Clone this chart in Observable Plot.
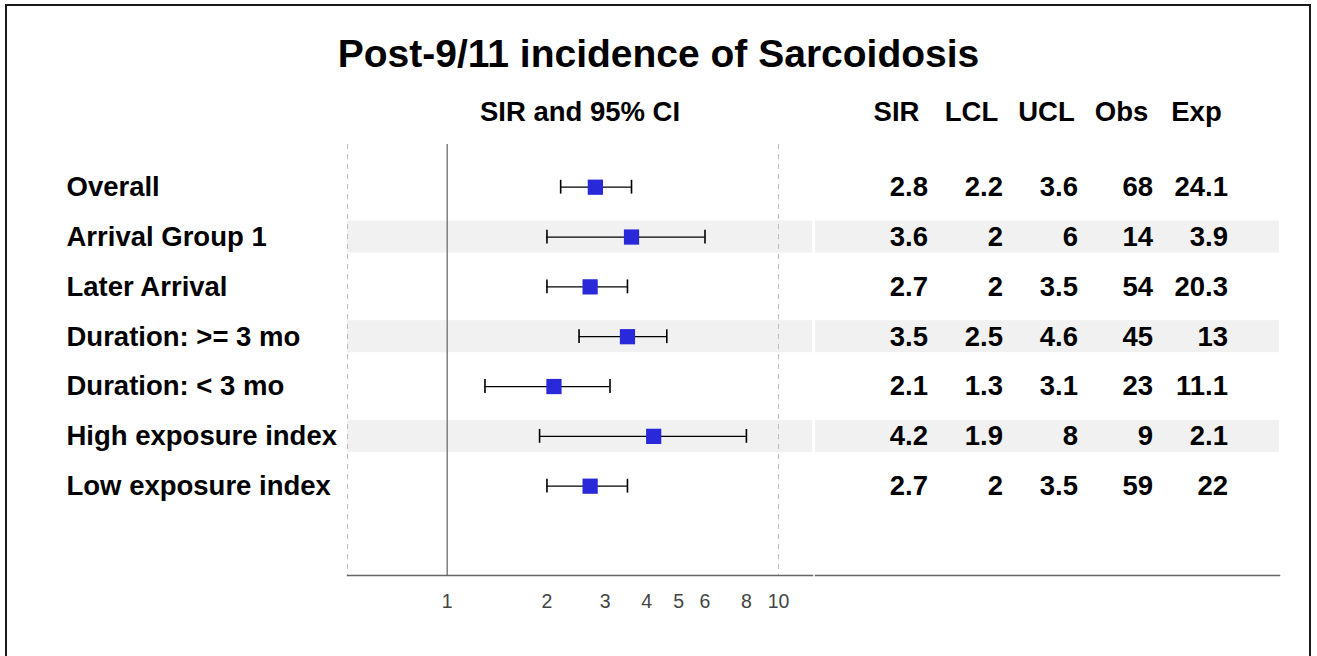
<!DOCTYPE html>
<html><head><meta charset="utf-8">
<script src="https://cdn.jsdelivr.net/npm/d3@7"></script>
<script src="https://cdn.jsdelivr.net/npm/@observablehq/plot@0.6"></script>
<style>
body{margin:0;background:#fff;}
#wrap{position:relative;width:1317px;height:656px;overflow:hidden;font-family:"Liberation Sans",Arial,sans-serif;}
#border{position:absolute;left:5px;top:4px;width:1306px;height:720px;border:2px solid #1a1a1a;box-sizing:border-box;}
#title{position:absolute;left:0;top:34px;width:1317px;text-align:center;font-size:39px;font-weight:bold;line-height:39px;color:#000;}
#forest{position:absolute;left:0;top:0;}
#table{position:absolute;left:813px;top:0;}
</style></head>
<body><div id="wrap"><div id="border"></div><div id="title">Post-9/11 incidence of Sarcoidosis</div><div id="forest"></div><div id="table"></div></div>
<script>
const labels = ["Overall","Arrival Group 1","Later Arrival","Duration: >= 3 mo","Duration: < 3 mo","High exposure index","Low exposure index"];
const sir = [2.8, 3.6, 2.7, 3.5, 2.1, 4.2, 2.7];
const lcl = [2.2, 2, 2, 2.5, 1.3, 1.9, 2];
const ucl = [3.6, 6, 3.5, 4.6, 3.1, 8, 3.5];
const obs = [68, 14, 54, 45, 23, 9, 59];
const expd = [24.1, 3.9, 20.3, 13, 11.1, 2.1, 22];
const columns = ["SIR", "LCL", "UCL", "Obs", "Exp"];
const ciHeader = "SIR and 95% CI";
const xTicks = [1, 2, 3, 4, 5, 6, 8, 10];
const refLines = [0.5, 10];
const nullValue = 1;

const font = '"Liberation Sans", Arial, sans-serif';
const banded = labels.filter((d, i) => i % 2 === 1);
const rows = labels.map((label, i) => ({label, sir: sir[i], lcl: lcl[i], ucl: ucl[i]}));
const tableCols = [sir, lcl, ucl, obs, expd];
const cellsT = [];
labels.forEach((label, i) => tableCols.forEach((arr, j) => cellsT.push({label, col: columns[j], value: arr[i]})));

const yScale = {type: "band", domain: labels, range: [161.8, 510.6], padding: 0, round: false, axis: null};
const bandStyle = {fill: "#f1f1f1", insetTop: 8.9, insetBottom: 8.9};
const boldText = {fontSize: 27.5, fontWeight: "bold", fill: "#000"};

const forest = Plot.plot({
  width: 813, height: 656, marginLeft: 347, marginRight: 1, marginTop: 144, marginBottom: 81,
  style: {fontFamily: font, fontSize: "19px", color: "#444", background: "transparent", overflow: "visible"},
  x: {type: "log", domain: [0.5, 10], range: [347, 778], axis: null},
  y: yScale,
  marks: [
    Plot.cell(banded, {y: d => d, ...bandStyle}),
    Plot.ruleX(refLines, {stroke: "#bdbdbd", strokeDasharray: "5,5"}),
    Plot.ruleX([nullValue], {stroke: "#808080", strokeWidth: 1.5}),
    Plot.frame({anchor: "bottom", stroke: "#666", strokeWidth: 1.5}),
    Plot.text(xTicks, {x: d => d, text: d => String(d), frameAnchor: "bottom", lineAnchor: "top", dy: 18.5, fontSize: 19.5, fill: "#444"}),
    Plot.ruleY(rows, {y: "label", x1: "lcl", x2: "ucl", stroke: "#000", strokeWidth: 1.2}),
    Plot.tickX(rows, {y: "label", x: "lcl", stroke: "#000", strokeWidth: 1.6, insetTop: 18, insetBottom: 18}),
    Plot.tickX(rows, {y: "label", x: "ucl", stroke: "#000", strokeWidth: 1.6, insetTop: 18, insetBottom: 18}),
    Plot.dot(rows, {y: "label", x: "sir", symbol: "square", r: 8.6, fill: "#2929d9", stroke: "none"}),
    Plot.text(labels, {y: d => d, text: d => d, frameAnchor: "left", textAnchor: "start", dx: -281, ...boldText}),
    Plot.text([ciHeader], {text: d => d, frameAnchor: "top", lineAnchor: "bottom", dy: -24, ...boldText})
  ]
});
document.getElementById("forest").appendChild(forest);

const table = Plot.plot({
  width: 504, height: 656, marginLeft: 2, marginRight: 38, marginTop: 144, marginBottom: 81,
  style: {fontFamily: font, fontSize: "18px", color: "#000", background: "transparent", overflow: "visible"},
  x: {type: "band", domain: columns, range: [45.5, 420.5], padding: 0, round: false, axis: null},
  y: yScale,
  marks: [
    Plot.cell(banded, {y: d => d, ...bandStyle}),
    Plot.frame({anchor: "bottom", stroke: "#666", strokeWidth: 1.5}),
    Plot.text(cellsT, {x: "col", y: "label", text: d => String(d.value), textAnchor: "end", dx: 31.5, ...boldText}),
    Plot.text(columns, {x: d => d, text: d => d, frameAnchor: "top", lineAnchor: "bottom", dy: -24, ...boldText})
  ]
});
document.getElementById("table").appendChild(table);
</script>
</body></html>
